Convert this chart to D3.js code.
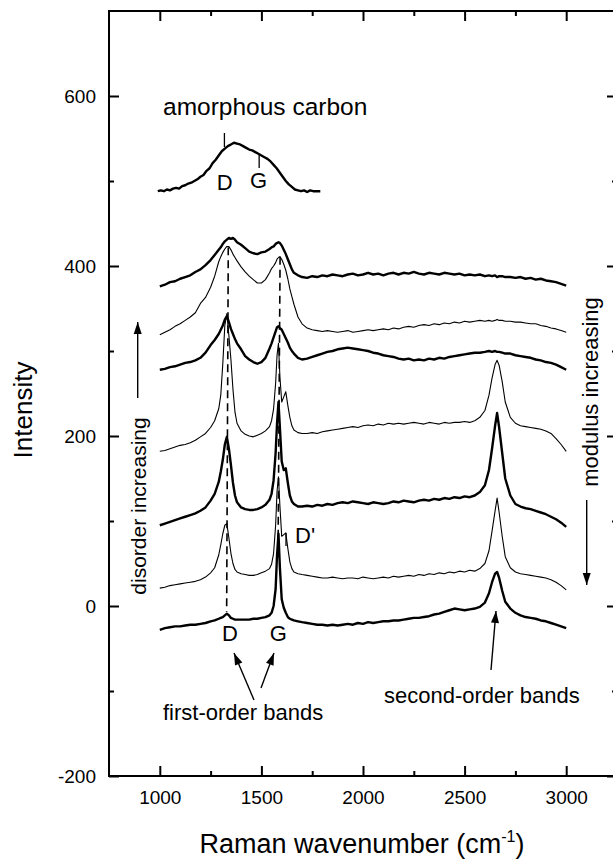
<!DOCTYPE html>
<html><head><meta charset="utf-8">
<script src="https://cdn.jsdelivr.net/npm/d3@7"></script>
<style>body{margin:0;background:#fff}svg{display:block}text{font-family:"Liberation Sans",Arial,sans-serif;fill:#000}</style>
</head><body><svg id="c" width="613" height="859"></svg>
<script>
// ---------- data ----------
const xTicksMajor = [1000,1500,2000,2500,3000];
const xTicksMinor = [1250,1750,2250,2750];
const yTicksMajor = [-200,0,200,400,600];
const yTicksMinor = [-100,100,300,500];

// amorphous carbon spectrum
const amorphX = [990,1005,1020,1035,1050,1065,1080,1095,1110,1125,1140,1155,1170,1185,1200,1215,1230,1245,1260,1275,1290,1305,1320,1335,1350,1365,1380,1395,1410,1425,1440,1455,1470,1485,1500,1515,1530,1545,1560,1575,1590,1605,1620,1635,1650,1665,1680,1695,1710,1725,1740,1755,1770,1790];
const amorphY = [488,489,488,490,489,491,492,491,494,495,497,498,500,502,505,507,512,515,521,525,530,535,538,541,543,545,544,543,541,539,537,536,534,532,530,528,526,523,519,515,510,505,500,496,493,490,489,488,489,487,489,488,488,488];

// common wavenumber grid for the 7 stacked spectra
const wn = [1000,1025,1050,1075,1100,1125,1150,1175,1200,1225,1250,
  1270,1290,
  1300,1310,1320,1330,1340,1350,1360,1370,1380,
  1400,1420,1440,1460,1480,1500,1520,1540,
  1550,1560,1570,1577,1584,1591,1600,1610,1620,1630,1640,1650,1660,
  1680,1700,
  1725,1750,1775,1800,1825,1850,1875,1900,1925,1950,1975,2000,2025,2050,2075,2100,2125,2150,2175,2200,2225,2250,2275,2300,2325,2350,2375,2400,2425,2450,2475,2500,2525,2550,2575,2600,
  2620,2635,2650,2660,2670,2685,2700,
  2725,2750,2775,2800,2825,2850,2875,2900,2925,2950,2975,3000];

const specB = [376,378,381,382,385,387,389,393,396,401,407,
  413,419,
  422,426,429,431,433,432,433,431,428,
  425,421,417,415,414,416,417,420,
  422,423,426,427,428,427,424,419,414,408,402,396,392,
  389,387,
  386,388,387,389,388,390,389,388,390,391,389,390,392,390,391,389,391,392,390,392,391,393,391,390,392,391,390,392,391,390,391,389,390,389,390,388,
  389,388,389,387,388,388,387,
  387,386,387,385,386,384,385,383,382,381,379,377];

const specC = [319,322,325,329,332,336,340,345,356,363,375,
  388,405,
  411,416,420,423,423,419,414,410,406,
  399,393,388,384,380,380,384,392,
  397,400,404,408,410,411,408,402,395,385,373,364,355,
  340,332,
  327,325,324,323,324,323,322,323,324,322,323,324,325,324,325,326,325,327,326,328,329,328,330,331,330,332,331,333,332,334,333,335,334,335,336,335,
  336,335,336,337,336,336,335,
  335,334,334,333,332,332,330,329,327,326,324,322];

const specD = [278,279,281,282,284,286,287,289,292,298,307,
  313,320,
  325,330,337,341,334,326,320,314,309,
  302,294,290,287,285,287,292,303,
  309,316,323,328,329,327,325,320,315,310,304,300,297,
  292,290,
  291,293,295,297,299,300,302,303,304,303,302,301,300,298,297,295,294,293,291,290,291,289,290,289,291,290,292,291,293,294,295,296,297,298,298,299,
  300,299,300,299,299,298,297,
  297,295,294,293,292,290,289,287,286,284,281,278];

const specE = [182,183,185,187,189,190,192,195,199,203,210,
  218,232,
  248,285,330,344,318,290,255,228,215,
  206,202,200,199,201,203,206,211,
  218,232,262,295,309,270,240,246,252,236,222,212,207,
  204,203,
  203,204,203,205,206,207,208,209,210,211,210,212,213,212,214,213,215,214,215,214,215,216,215,214,216,215,214,216,215,216,216,217,216,218,222,230,
  248,268,284,289,283,264,240,
  222,215,212,211,210,209,208,206,203,197,190,182];

const specF = [95,97,99,101,103,105,107,109,112,116,124,
  132,146,
  158,172,190,199,185,166,145,130,122,
  116,114,113,113,114,116,119,125,
  132,148,180,215,240,210,170,160,162,145,130,123,120,
  117,117,
  118,117,119,118,120,119,121,122,121,123,122,121,120,122,121,120,121,123,122,124,123,122,124,125,124,126,125,127,126,128,127,129,128,130,134,142,
  160,185,212,227,210,180,150,
  130,120,117,115,114,112,110,108,105,102,98,93];

const specG = [21,22,24,25,26,27,28,29,31,34,39,
  45,60,
  72,85,95,97,80,62,50,43,40,
  38,37,36,36,37,39,41,44,
  49,62,95,135,152,118,82,84,86,68,52,44,40,
  38,37,
  36,35,34,33,33,34,33,32,33,33,32,34,33,32,33,34,33,35,34,35,36,35,37,36,38,37,39,38,40,39,41,40,42,41,44,50,
  65,88,112,127,110,82,58,
  45,40,38,37,36,35,34,33,31,28,24,19];

const specH = [-28,-26,-25,-24,-24,-23,-22,-22,-21,-20,-18,
  -17,-15,
  -14,-13,-11,-9,-11,-14,-15,-16,-16,
  -16,-16,-16,-15,-15,-14,-13,-11,
  -8,0,20,60,85,45,8,-2,-8,-13,-15,-16,-17,
  -18,-19,
  -20,-21,-22,-22,-23,-22,-23,-22,-21,-22,-20,-21,-19,-20,-19,-18,-18,-17,-17,-16,-15,-14,-14,-13,-12,-10,-9,-7,-5,-3,-4,-5,-4,-3,-1,4,
  15,28,38,40,33,18,5,
  -3,-8,-11,-13,-14,-15,-17,-18,-20,-22,-24,-26];

const spectra = [
  {vals: specB, thick: true},
  {vals: specC, thick: false},
  {vals: specD, thick: true},
  {vals: specE, thick: false},
  {vals: specF, thick: true},
  {vals: specG, thick: false},
  {vals: specH, thick: true}
];

// ---------- drawing ----------
const svg = d3.select("#c");
svg.append("rect").attr("width",613).attr("height",859).attr("fill","#fff");
const L=109, R=617, T=11, B=776;
const x = d3.scaleLinear().domain([750,3250]).range([L,R]);
const y = d3.scaleLinear().domain([-200,700]).range([B,T]);
const fmt = d => String(d);

function styleAxis(g){
  g.select(".domain").remove();
  g.selectAll(".tick line").attr("stroke","#000").attr("stroke-width",2);
  g.selectAll("text").style("font-size","19px").attr("fill","#000");
}
// major/minor ticks inward on all four sides
svg.append("g").attr("transform",`translate(0,${B})`)
  .call(d3.axisBottom(x).tickValues(xTicksMajor).tickSize(-10).tickPadding(15).tickFormat(fmt)).call(styleAxis);
svg.append("g").attr("transform",`translate(0,${B})`)
  .call(d3.axisBottom(x).tickValues(xTicksMinor).tickSize(-5).tickFormat("")).call(styleAxis);
svg.append("g").attr("transform",`translate(0,${T})`)
  .call(d3.axisTop(x).tickValues(xTicksMajor).tickSize(-10).tickFormat("")).call(styleAxis);
svg.append("g").attr("transform",`translate(0,${T})`)
  .call(d3.axisTop(x).tickValues(xTicksMinor).tickSize(-5).tickFormat("")).call(styleAxis);
svg.append("g").attr("transform",`translate(${L},0)`)
  .call(d3.axisLeft(y).tickValues(yTicksMajor).tickSize(-10).tickPadding(13).tickFormat(fmt)).call(styleAxis);
svg.append("g").attr("transform",`translate(${L},0)`)
  .call(d3.axisLeft(y).tickValues(yTicksMinor).tickSize(-5).tickFormat("")).call(styleAxis);
svg.append("g").attr("transform",`translate(${R},0)`)
  .call(d3.axisRight(y).tickValues(yTicksMajor).tickSize(-10).tickFormat("")).call(styleAxis);
svg.append("g").attr("transform",`translate(${R},0)`)
  .call(d3.axisRight(y).tickValues(yTicksMinor).tickSize(-5).tickFormat("")).call(styleAxis);

svg.append("rect").attr("x",L).attr("y",T).attr("width",R-L).attr("height",B-T)
  .attr("fill","none").attr("stroke","#000").attr("stroke-width",2);

const line = d3.line().x(d=>x(d[0])).y(d=>y(d[1]));

// amorphous
svg.append("path").datum(amorphX.map((v,i)=>[v,amorphY[i]]))
  .attr("d",line).attr("fill","none").attr("stroke","#000").attr("stroke-width",2.4).attr("stroke-linejoin","round");

spectra.forEach(s=>{
  svg.append("path").datum(wn.map((v,i)=>[v,s.vals[i]]))
    .attr("d",line).attr("fill","none").attr("stroke","#000")
    .attr("stroke-width", s.thick?2.4:1.1).attr("stroke-linejoin","round");
});

// dashed guide lines through D and G bands
svg.append("line").attr("x1",x(1337)).attr("y1",y(422)).attr("x2",x(1329)).attr("y2",y(-7))
  .attr("stroke","#000").attr("stroke-width",1.6).attr("stroke-dasharray","8,5");
svg.append("line").attr("x1",x(1592)).attr("y1",y(411)).attr("x2",x(1582)).attr("y2",y(66))
  .attr("stroke","#000").attr("stroke-width",1.6).attr("stroke-dasharray","8,5");

// small markers
function seg(x1,y1,x2,y2,w){svg.append("line").attr("x1",x1).attr("y1",y1).attr("x2",x2).attr("y2",y2).attr("stroke","#000").attr("stroke-width",w||1.3);}
seg(x(1318),133,x(1318),147);
seg(x(1489),154,x(1489),168);
seg(286,533,286,546);

function txt(s,xx,yy,size,anchor,rot){
  const t=svg.append("text").attr("x",xx).attr("y",yy).style("font-size",size+"px").attr("text-anchor",anchor||"start").text(s);
  if(rot) t.attr("transform",`rotate(${rot},${xx},${yy})`);
  return t;
}
txt("amorphous carbon",163,115,24.5);
txt("D",224.8,190,22,"middle");
txt("G",258.5,188,22,"middle");
txt("D'",295,543,22);
txt("D",230,641,22,"middle");
txt("G",278.3,641,22,"middle");
txt("first-order bands",163,720,22);
txt("second-order bands",384,703,22);
txt("disorder increasing",146,506,21,"middle",-90);
txt("modulus increasing",598,392,22,"middle",-90);
txt("Intensity",32,410,26,"middle",-90);
const xt = svg.append("text").attr("x",362).attr("y",853).attr("text-anchor","middle").style("font-size","27px");
xt.append("tspan").text("Raman wavenumber (cm");
xt.append("tspan").attr("dy",-11).style("font-size","16px").text("-1");
xt.append("tspan").attr("dy",11).text(")");

// arrows
function arrow(x1,y1,x2,y2){
  seg(x1,y1,x2,y2,1.4);
  const a=Math.atan2(y2-y1,x2-x1), len=12, w=4;
  const bx=x2-len*Math.cos(a), by=y2-len*Math.sin(a);
  const px=-Math.sin(a)*w, py=Math.cos(a)*w;
  svg.append("path").attr("d",`M${x2},${y2}L${bx+px},${by+py}L${bx-px},${by-py}Z`).attr("fill","#000");
}
arrow(137.7,398,137.7,322);
arrow(586.7,500,586.7,585);
arrow(254,700,234,653);
arrow(261,688,274,653);
arrow(491,670,496,611);
</script></body></html>
